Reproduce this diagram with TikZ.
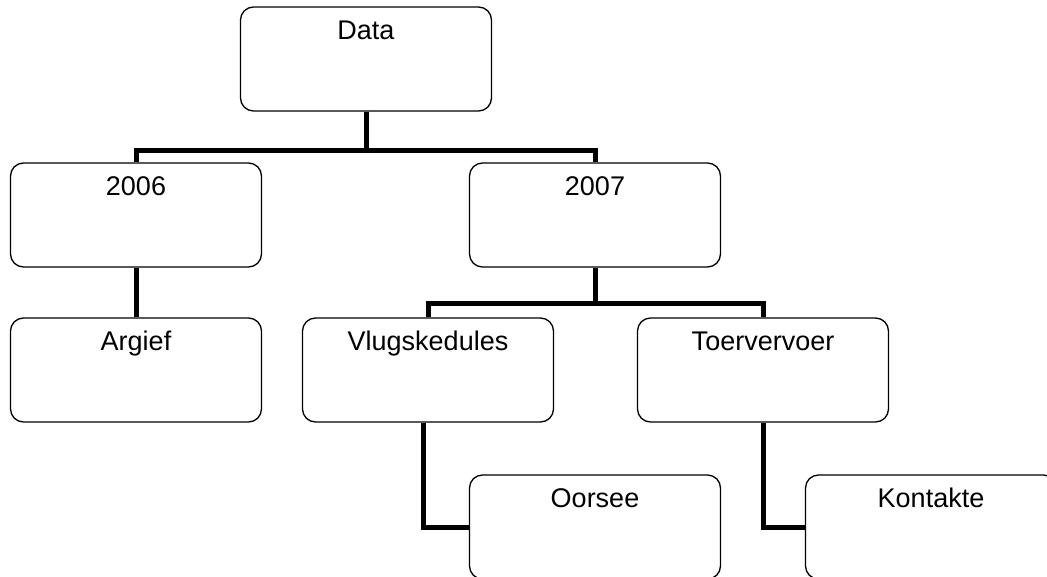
\documentclass[tikz,border=0pt]{standalone}
\usepackage{fontspec}
\setmainfont{Liberation Sans}
\begin{document}
\begin{tikzpicture}[x=1pt,y=-1pt,
  box/.style={draw=black, line width=1.3pt, rounded corners=13pt, fill=white,
    minimum width=251pt, inner xsep=0pt, inner ysep=13pt,
    text height=19pt, text depth=59pt, align=center,
    font=\fontsize{27}{31}\selectfont},
  conn/.style={draw=black, line width=5pt}]
\useasboundingbox (0,0) rectangle (1047,576);
\clip (0,0) rectangle (1047,576);
\fill[white] (0,0) rectangle (1047,576);
\coordinate (j1) at (366,150);
\coordinate (j2) at (595,303);
\path (366,59) node[box] (data) {Data};
\path (136,215) node[box] (y2006) {2006};
\path (595,215) node[box] (y2007) {2007};
\path (136,370) node[box] (argief) {Argief};
\path (428,370) node[box] (vlug) {Vlugskedules};
\path (763,370) node[box] (toer) {Toervervoer};
\path (595,527) node[box] (oorsee) {Oorsee};
\path (931,527) node[box] (kont) {Kontakte};
\draw[conn] (data.south) -- (j1);
\draw[conn] (y2006.north) |- (j1) -| (y2007.north);
\draw[conn] (y2006.south) -- (argief.north);
\draw[conn] (y2007.south) -- (j2);
\draw[conn] (vlug.north) |- (j2) -| (toer.north);
\draw[conn] ([xshift=-5pt]vlug.south) |- (oorsee.west);
\draw[conn] (toer.south) |- (kont.west);
\end{tikzpicture}
\end{document}
